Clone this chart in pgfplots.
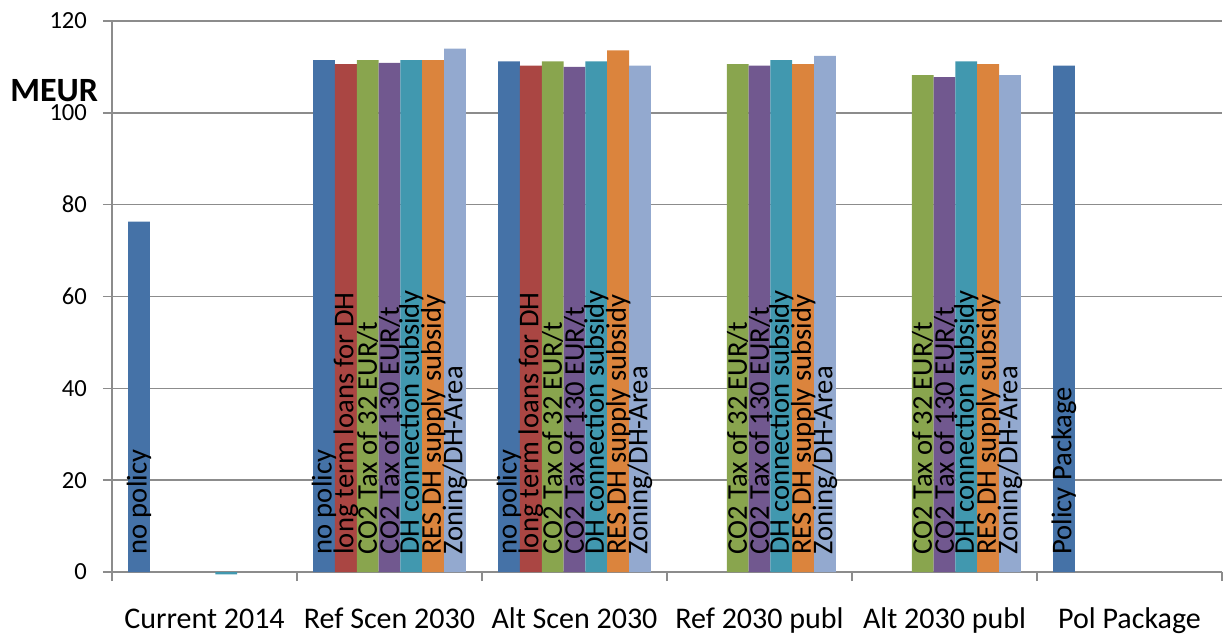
\documentclass[border=0pt]{standalone}
\usepackage{fontspec}
\setmainfont{Carlito}
\usepackage{pgfplots}
\pgfplotsset{compat=1.18}
\definecolor{gridc}{HTML}{8C8C8C}
\definecolor{c0}{HTML}{4572A7}
\definecolor{c1}{HTML}{AA4643}
\definecolor{c2}{HTML}{89A54E}
\definecolor{c3}{HTML}{71588F}
\definecolor{c4}{HTML}{4198AF}
\definecolor{c5}{HTML}{DB843D}
\definecolor{c6}{HTML}{93A9CF}
\begin{document}
\begin{tikzpicture}
\begin{axis}[
  name=ax,
  scale only axis, width=555pt, height=275.5pt,
  ybar=0pt, bar width=0.118,
  xmin=-0.5, xmax=5.5, ymin=0, ymax=120,
  clip=false,
  axis x line*=bottom, axis y line*=left,
  axis line style={gridc, line width=0.75pt},
  tick style={gridc, line width=0.75pt},
  tick align=outside, major tick length=4.5pt,
  ymajorgrids, grid style={gridc, line width=0.75pt},
  ytick={0,20,...,120},
  yticklabel style={font=\fontsize{12.3}{14}\selectfont, xshift=-4.5pt},
  /pgf/number format/assume math mode=true,
  xtick={-0.5,0.5,...,5.5}, xticklabels={},
  extra x ticks={0,1,2,3,4,5},
  extra x tick labels={Current 2014,Ref Scen 2030,Alt Scen 2030,Ref 2030 publ,Alt 2030 publ,Pol Package},
  extra x tick style={major tick length=0pt,
    xticklabel style={font=\fontsize{15}{18}\selectfont, anchor=base, yshift=-28pt}},
  point meta=explicit symbolic,
  nodes near coords,
  nodes near coords align={horizontal},
  visualization depends on=y \as \rawy,
  every node near coord/.append style={shift={(axis direction cs:0,-\rawy)}, yshift=8.5pt,
    rotate=90, anchor=west, inner sep=0pt, text=black,
    font=\fontsize{14.3}{16}\selectfont},
]
% no policy / policy package
\addplot[fill=c0, draw=none, bar shift=-0.354] coordinates {
  (0,76.3) [no policy] (1,111.5) [no policy] (2,111.2) [no policy] (5,110.3) [Policy Package]};
% long term loans
\addplot[fill=c1, draw=none, bar shift=-0.236] coordinates {
  (1,110.6) [long term loans for DH] (2,110.3) [long term loans for DH]};
% CO2 tax 32
\addplot[fill=c2, draw=none, bar shift=-0.118] coordinates {
  (1,111.5) [CO2 Tax of 32 EUR/t] (2,111.2) [CO2 Tax of 32 EUR/t]
  (3,110.6) [CO2 Tax of 32 EUR/t] (4,108.2) [CO2 Tax of 32 EUR/t]};
% CO2 tax 130
\addplot[fill=c3, draw=none, bar shift=0] coordinates {
  (1,110.9) [CO2 Tax of 130 EUR/t] (2,110.0) [CO2 Tax of 130 EUR/t]
  (3,110.3) [CO2 Tax of 130 EUR/t] (4,107.8) [CO2 Tax of 130 EUR/t]};
% DH connection subsidy
\addplot[fill=c4, draw=none, bar shift=0.118] coordinates {
  (0,-0.5) [\mbox{}]
  (1,111.5) [DH connection subsidy] (2,111.2) [DH connection subsidy]
  (3,111.5) [DH connection subsidy] (4,111.2) [DH connection subsidy]};
% RES DH supply subsidy
\addplot[fill=c5, draw=none, bar shift=0.236] coordinates {
  (1,111.5) [RES DH supply subsidy] (2,113.6) [RES DH supply subsidy]
  (3,110.6) [RES DH supply subsidy] (4,110.6) [RES DH supply subsidy]};
% Zoning
\addplot[fill=c6, draw=none, bar shift=0.354] coordinates {
  (1,114.0) [Zoning/DH-Area] (2,110.3) [Zoning/DH-Area]
  (3,112.4) [Zoning/DH-Area] (4,108.2) [Zoning/DH-Area]};
\node[anchor=base west, inner sep=0pt, font=\bfseries\fontsize{17}{20}\selectfont]
  at (rel axis cs:-0.0919,0.8535) {MEUR};
\end{axis}
\pgfresetboundingbox
\path ([shift={(-56pt,-32.5pt)}]ax.south west) rectangle ([shift={(1pt,10.5pt)}]ax.north east);
\end{tikzpicture}
\end{document}
